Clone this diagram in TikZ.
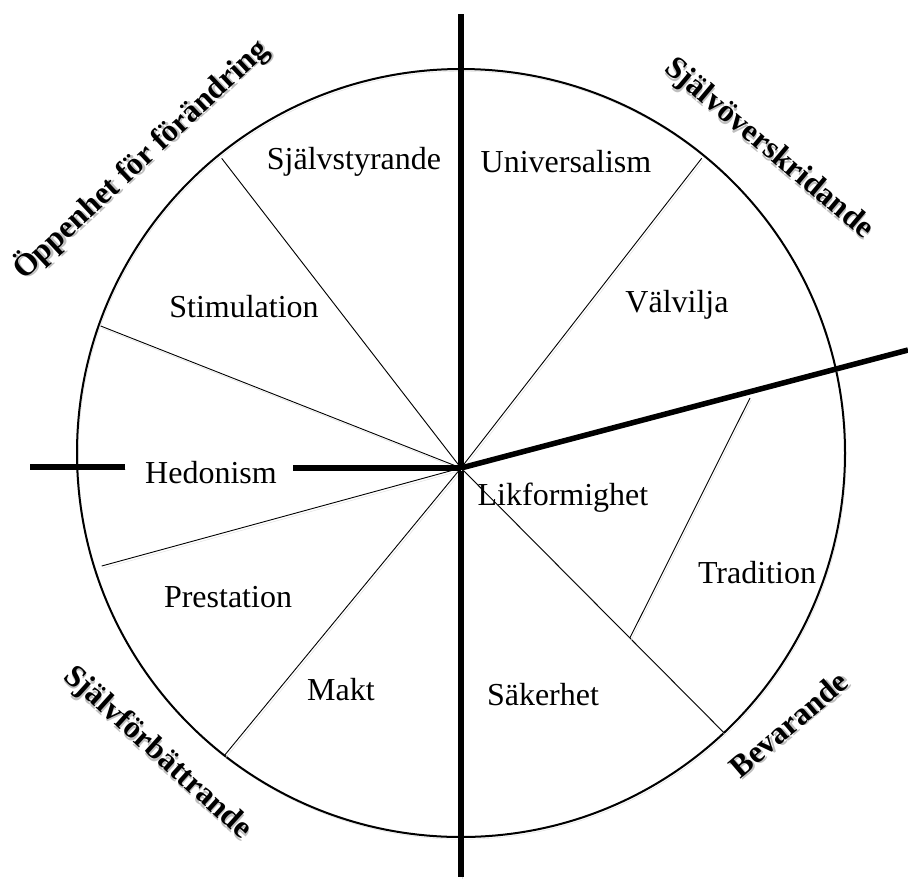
\documentclass[tikz,border=0pt]{standalone}
\usepackage{fontspec}
\setmainfont{Liberation Serif}
\newcommand\shtxt[1]{\leavevmode\rlap{\kern1.6pt\raisebox{-2pt}{\textcolor{black!25}{#1}}}#1}
\begin{document}
\begin{tikzpicture}[x=1pt,y=-1pt,
  shade/.style={preaction={draw=black!14, transform canvas={shift={(1.3pt,-2.2pt)}}}},
  heavy/.style={line width=5.5pt, shade},
  thinln/.style={line width=0.9pt, shade},
  rim/.style={line width=2pt, shade},
  inner/.style={font=\fontsize{32}{38}\selectfont, inner sep=0pt},
  outer/.style={font=\bfseries\fontsize{31.5}{37}\selectfont, inner sep=0pt}]
\useasboundingbox (0,0) rectangle (908,879);

% centres
\coordinate (C) at (461,453);
\coordinate (O) at (461,468);

% rim
\draw[rim] (C) circle[radius=384pt];

% spoke ends
\coordinate (s1) at (221.7,158.3);
\coordinate (s2) at (701.7,158.3);
\coordinate (s3) at (100.7,326);
\coordinate (s4) at (101.7,566);
\coordinate (s5) at (224,756);
\coordinate (s6) at (724,732.7);
\coordinate (t1) at (750,398);
\coordinate (t2) at (630,637.7);

\foreach \p in {s1,s2,s3,s4,s5,s6} \draw[thinln] (O) -- (\p);
\draw[thinln] (t1) -- (t2);

% heavy dividers
\coordinate (vtop) at (461,14);
\coordinate (vbot) at (461,877);
\coordinate (rend) at (908,350);
\coordinate (l1) at (30,467);
\coordinate (l2) at (125,467);
\coordinate (l3) at (293,468);
\draw[heavy] (vtop) -- (vbot);
\draw[heavy] (O) -- (rend);
\draw[heavy] (l1) -- (l2);
\draw[heavy] (l3) -- (O);

% sector labels
\node[inner] (sjs) at (354,162) {Självstyrande};
\node[inner] (uni) at (566,162) {Universalism};
\node[inner] (sti) at (244,307) {Stimulation};
\node[inner] (val) at (677,305) {Välvilja};
\node[inner] (hed) at (211,473) {Hedonism};
\node[inner] (lik) at (563,498) {Likformighet};
\node[inner] (tra) at (757,573) {Tradition};
\node[inner] (pre) at (228,597) {Prestation};
\node[inner] (mak) at (341,690) {Makt};
\node[inner] (sak) at (543,695) {Säkerhet};

% higher-order labels (with soft shadow)
\node[outer, rotate=43] (opp) at (141,160) {\shtxt{Öppenhet för förändring}};
\node[outer, rotate=-40] (sov) at (768,150) {\shtxt{Självöverskridande}};
\node[outer, rotate=-42] (sfb) at (157,754) {\shtxt{Självförbättrande}};
\node[outer, rotate=40.5] (bev) at (789,725) {\shtxt{Bevarande}};
\end{tikzpicture}
\end{document}
